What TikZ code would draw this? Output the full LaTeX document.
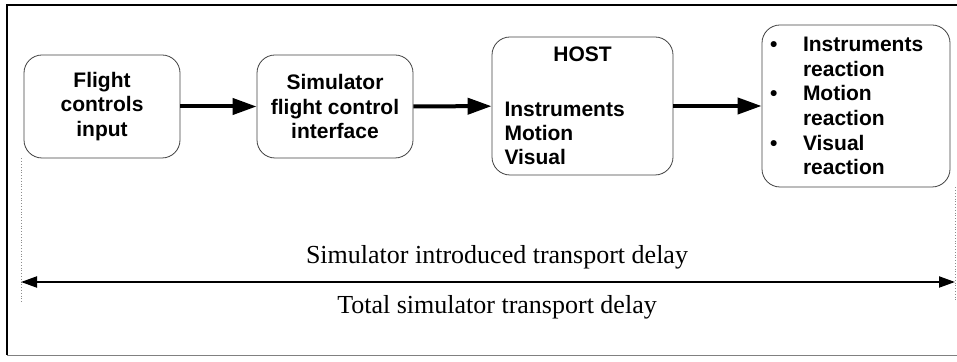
\documentclass[tikz,border=0pt]{standalone}
\usepackage{fontspec}
\setmainfont{Liberation Serif}
\setsansfont{Liberation Sans}
\usepackage{tikz}
\usetikzlibrary{arrows.meta,positioning}

\begin{document}
\begin{tikzpicture}[x=0.5pt, y=-0.5pt,
	block/.style = {shape=rectangle, rounded corners=9pt,
	draw=black!75, thin, align=center, inner sep=2pt,
	font=\sffamily\bfseries\fontsize{10.5}{12.2}\selectfont},
	flow/.style = {-{Triangle[length=12pt,width=8pt]}, line width=2pt},
	span/.style = {{Triangle[length=8pt,width=5.5pt]}-{Triangle[length=8pt,width=5.5pt]}, line width=1pt},
	guide/.style = {densely dotted, black!45, thin},
	delay/.style = {font=\fontsize{13}{15}\selectfont}
]
\useasboundingbox (0,0) rectangle (957,362);
\draw[line width=1.2pt] (7,355) -- (7,5) -- (957,5);
\draw[black!50] (7,355) -- (957,355);

\node[block, minimum width=78pt, minimum height=51.5pt] (input) at (102,106.5)
	{Flight\\controls\\input};
\node[block, minimum width=78pt, minimum height=51.5pt] (iface) at (335,106.5)
	{Simulator\\flight control\\interface};
\node[block, align=left, minimum width=90.5pt, minimum height=69pt] (host) at (582.5,106)
	{\makebox[78pt][c]{HOST}\\[15pt]Instruments\\Motion\\Visual};
\node[block, align=left, inner xsep=4pt, text width=86pt, minimum height=81pt,
	font=\sffamily\bfseries\fontsize{10.5}{12.3}\selectfont] (output) at (856,106)
	{\makebox[16.5pt][l]{\textbullet}Instruments\\\hspace*{16.5pt}reaction\\
	 \makebox[16.5pt][l]{\textbullet}Motion\\\hspace*{16.5pt}reaction\\
	 \makebox[16.5pt][l]{\textbullet}Visual\\\hspace*{16.5pt}reaction};

\draw[flow] (input) -- (iface);
\draw[flow] (iface) -- (host);
\draw[flow] (host) -- (output);

\coordinate (lend) at (21,302);
\coordinate (rend) at (955,302);
\coordinate (la) at (21,282);
\coordinate (ra) at (955,282);
\draw[guide] (lend |- input.south) -- (lend);
\draw[guide] (rend |- output.south) -- (rend);
\draw[span] (la) -- (ra);

\node[delay] (intro) at (497,257) {Simulator introduced transport delay};
\node[delay] (total) at (497,307) {Total simulator transport delay};
\end{tikzpicture}
\end{document}
